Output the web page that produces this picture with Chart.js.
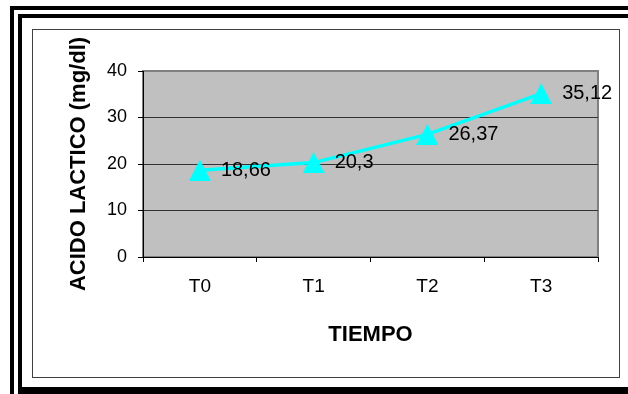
<!DOCTYPE html>
<html>
<head>
<meta charset="utf-8">
<script src="https://cdn.jsdelivr.net/npm/chart.js@4/dist/chart.umd.min.js"></script>
<style>
  html, body { margin: 0; padding: 0; background: #ffffff; }
  body { width: 628px; height: 394px; position: relative; overflow: hidden; }
  .bar { position: absolute; background: #000; }
  #box {
    position: absolute; left: 32px; top: 29px; width: 588px; height: 349px;
    box-sizing: border-box; border: 1px solid #404040; background: #fff;
  }
  #chart { position: absolute; left: 0; top: 0; }
</style>
</head>
<body>
  <!-- double frame with heavy bottom edge -->
  <div class="bar" style="left:10px;top:6px;width:618px;height:4px"></div>
  <div class="bar" style="left:10px;top:6px;width:4px;height:388px"></div>
  <div class="bar" style="left:18px;top:14px;width:610px;height:4px"></div>
  <div class="bar" style="left:18px;top:14px;width:4px;height:380px"></div>
  <div class="bar" style="left:18px;top:387px;width:610px;height:7px"></div>

  <div id="box"><canvas id="chart" width="586" height="347"></canvas></div>

<script>
// Sampling times and lactic acid concentration (mg/dl)
const categories = ['T0', 'T1', 'T2', 'T3'];
const acidoLactico = [18.66, 20.3, 26.37, 35.12];
const yTickValues = [0, 10, 20, 30, 40];

const FONT = "'Liberation Sans', Arial, Helvetica, sans-serif";

// Cyan triangle marker, centred on its bounding box
function triangleMarker(w, h, color) {
  const c = document.createElement('canvas');
  c.width = w; c.height = h;
  const g = c.getContext('2d');
  g.fillStyle = color;
  g.beginPath();
  g.moveTo(w / 2, 0);
  g.lineTo(w, h);
  g.lineTo(0, h);
  g.closePath();
  g.fill();
  return c;
}
const marker = triangleMarker(22, 21, '#00FFFF');

// Grey plot background and its outline
const plotBackground = {
  id: 'plotBackground',
  beforeDraw(chart) {
    const { ctx, chartArea: a } = chart;
    ctx.save();
    ctx.fillStyle = '#C0C0C0';
    ctx.fillRect(a.left, a.top, a.right - a.left, a.bottom - a.top);
    ctx.strokeStyle = '#808080';
    ctx.lineWidth = 2;
    ctx.strokeRect(a.left, a.top, a.right - a.left, a.bottom - a.top);
    ctx.restore();
  }
};

// Value labels to the right of each point, decimal comma
const valueLabels = {
  id: 'valueLabels',
  afterDatasetsDraw(chart) {
    const { ctx } = chart;
    const meta = chart.getDatasetMeta(0);
    const values = chart.data.datasets[0].data;
    ctx.save();
    ctx.font = '20px ' + FONT;
    ctx.fillStyle = '#000';
    ctx.textAlign = 'left';
    ctx.textBaseline = 'middle';
    meta.data.forEach((pt, i) => {
      ctx.fillText(String(values[i]).replace('.', ','), pt.x + 21, pt.y);
    });
    ctx.restore();
  }
};

new Chart(document.getElementById('chart'), {
  type: 'line',
  data: {
    labels: categories,
    datasets: [{
      data: acidoLactico,
      borderColor: '#00FFFF',
      borderWidth: 3.5,
      backgroundColor: '#00FFFF',
      pointStyle: marker,
      pointRadius: 11,
      tension: 0,
      fill: false
    }]
  },
  options: {
    responsive: false,
    animation: false,
    events: [],
    layout: { padding: { top: 41, right: 21, left: 0, bottom: 0 } },
    plugins: { legend: { display: false }, tooltip: { enabled: false } },
    scales: {
      x: {
        offset: true,
        grid: {
          display: true, offset: true, drawOnChartArea: false,
          drawTicks: true, tickLength: 5, tickColor: '#000', color: '#000'
        },
        border: { display: true, color: '#000', width: 1 },
        ticks: { color: '#000', padding: 13, font: { family: FONT, size: 19 } },
        title: {
          display: true, text: 'TIEMPO', color: '#000',
          font: { family: FONT, size: 22, weight: 'bold' },
          padding: { top: 0, bottom: 29 }
        },
        afterFit(scale) { scale.height = 120; }
      },
      y: {
        min: 0, max: 40,
        afterBuildTicks(scale) { scale.ticks = yTickValues.map(v => ({ value: v })); },
        grid: {
          color: ctx => (ctx.tick && ctx.tick.value === 40 ? '#808080' : '#333333'),
          lineWidth: 1, drawTicks: true, tickLength: 5, tickColor: '#000'
        },
        border: { display: true, color: '#000', width: 1 },
        ticks: { color: '#000', padding: 11, font: { family: FONT, size: 18 } },
        title: {
          display: true, text: 'ACIDO LACTICO (mg/dl)', color: '#000',
          font: { family: FONT, size: 22, weight: 'bold' },
          padding: { top: 33, bottom: 0 }
        },
        afterFit(scale) { scale.width = 110; }
      }
    }
  },
  plugins: [plotBackground, valueLabels]
});
</script>
</body>
</html>
